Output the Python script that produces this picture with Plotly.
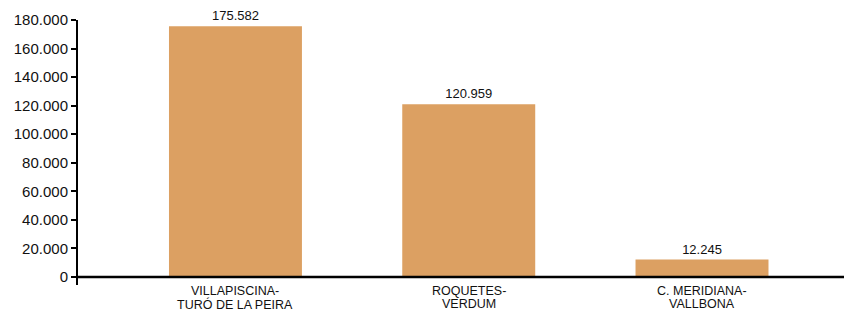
import plotly.graph_objects as go

categories = ["VILLAPISCINA-<br>TURÓ DE LA PEIRA", "ROQUETES-<br>VERDUM", "C. MERIDIANA-<br>VALLBONA"]
values = [175582, 120959, 12245]
ytick_vals = [0, 20000, 40000, 60000, 80000, 100000, 120000, 140000, 160000, 180000]
x_pos = [0, 1, 2]

fig = go.Figure(go.Bar(
    x=x_pos, y=values,
    marker=dict(color="#dca062", line=dict(width=0)),
    width=0.57,
    text=[f"{v:,}".replace(",", ".") for v in values],
    textposition="outside",
    textfont=dict(size=13, color="#111", family="Liberation Sans"),
    cliponaxis=False,
))

fig.add_shape(type="line", xref="paper", yref="y", x0=0, x1=1, y0=0, y1=0,
              line=dict(color="black", width=2.5))

label_font = dict(size=12.5, color="#111", family="Liberation Sans")
for xp, lab in zip(x_pos, categories):
    for i, line in enumerate(lab.split("<br>")):
        fig.add_annotation(x=xp, y=0, xref="x", yref="paper", text=line,
                           showarrow=False, yanchor="top", borderpad=0,
                           yshift=2 - 13 * i,
                           font=label_font, align="center")

# page body has an 8px default margin, so the figure is sized to fit the window
fig.update_layout(
    width=844, height=303,
    margin=dict(l=70, r=0, t=12, b=26, autoexpand=False),
    plot_bgcolor="white", paper_bgcolor="white",
    separators=",.",
    showlegend=False,
    font=dict(family="Liberation Sans", color="#111"),
    xaxis=dict(
        range=[-0.675, 2.643], automargin=False,
        showticklabels=False,
        ticks="", showline=False, showgrid=False, zeroline=False,
    ),
    yaxis=dict(
        range=[-5600, 180000], automargin=False,
        tickvals=ytick_vals, tickformat=",d",
        ticks="outside", ticklen=5, tickwidth=1.5, tickcolor="black",
        showline=True, linecolor="black", linewidth=2,
        showgrid=False, zeroline=False,
        tickfont=dict(size=15),
    ),
)

fig.write_html("out.html")
